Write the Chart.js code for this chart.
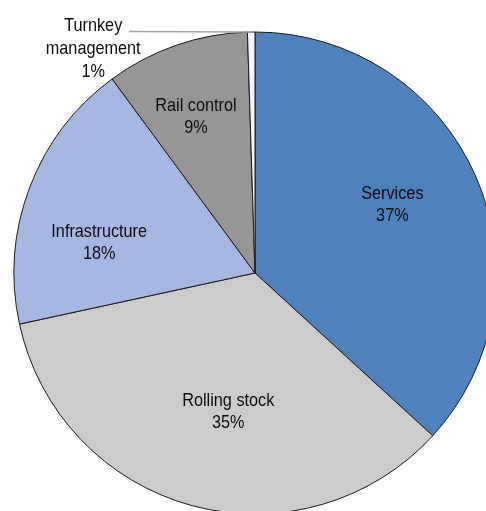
<!DOCTYPE html>
<html>
<head>
<meta charset="utf-8">
<script src="https://cdn.jsdelivr.net/npm/chart.js@4.4.1/dist/chart.umd.min.js"></script>
<style>
    html, body { margin: 0; padding: 0; background: #fff; overflow: hidden; }
    #wrap { position: absolute; left: 0; top: 0; width: 510px; height: 546px; }
</style>
</head>
<body>
<div id="wrap"><canvas id="pieChart"></canvas></div>
<script>
// segment shares, clockwise from 12 o'clock
const categories = ['Services', 'Rolling stock', 'Infrastructure', 'Rail control', 'Turnkey management'];
const shares = [36.8, 34.8, 18.3, 9.6, 0.5];
const pctLabels = ['37%', '35%', '18%', '9%', '1%'];
const sliceColors = ['#4f81bd', '#cccccc', '#a6b8e2', '#969696', '#f2f5fb'];

// label placement: radius fraction and angle nudge (deg) per slice
const labelPlace = [
    { r: 0.64, a: -3.3 },
    { r: 0.58, a: -4.1 },
    { r: 0.66, a: -9.1 },
    { r: 0.70, a: -1.4 },
    { outside: true }
];

const FONT = '19px "Liberation Sans", Arial, sans-serif';
const SQUEEZE = 0.855;
const LINE_H = 22;

function drawText(ctx, text, x, y) {
    ctx.save();
    ctx.translate(x, y);
    ctx.scale(SQUEEZE, 1);
    ctx.fillText(text, 0, 0);
    ctx.restore();
}

const sliceLabels = {
    id: 'sliceLabels',
    afterDatasetsDraw(chart) {
        const ctx = chart.ctx;
        const arcs = chart.getDatasetMeta(0).data;
        ctx.save();
        ctx.font = FONT;
        ctx.fillStyle = '#0d0d0d';
        ctx.textAlign = 'center';
        ctx.textBaseline = 'alphabetic';

        arcs.forEach((arc, i) => {
            const p = arc.getProps(['x', 'y', 'startAngle', 'endAngle', 'outerRadius'], true);
            const pct = pctLabels[i];
            const place = labelPlace[i];
            const mid = (p.startAngle + p.endAngle) / 2;

            if (place.outside) {
                // leader line going left from the slice edge
                const ex = p.x + Math.cos(mid) * p.outerRadius;
                const ey = p.y + Math.sin(mid) * p.outerRadius;
                const sx = ex - 122;
                ctx.strokeStyle = '#a6a6a6';
                ctx.lineWidth = 1.5;
                ctx.beginPath();
                ctx.moveTo(sx, ey - 0.5);
                ctx.lineTo(ex, ey);
                ctx.stroke();
                const tx = sx - 36;
                const words = categories[i].split(' ');
                drawText(ctx, words[0], tx, ey - 1.5);
                drawText(ctx, words[1], tx, ey + 21.5);
                drawText(ctx, pct, tx, ey + 44.5);
                return;
            }

            const ang = mid + place.a * Math.PI / 180;
            const cx = p.x + Math.cos(ang) * p.outerRadius * place.r;
            const cy = p.y + Math.sin(ang) * p.outerRadius * place.r;
            drawText(ctx, categories[i], cx, cy - 4);
            drawText(ctx, pct, cx, cy - 4 + LINE_H);
        });
        ctx.restore();
    }
};

const ctx = document.getElementById('pieChart').getContext('2d');
window.pieChart = new Chart(ctx, {
    type: 'pie',
    data: {
        labels: categories,
        datasets: [{
            data: shares,
            backgroundColor: sliceColors,
            borderColor: '#1a1a1a',
            borderWidth: 1
        }]
    },
    options: {
        responsive: true,
        maintainAspectRatio: false,
        animation: false,
        layout: {
            padding: { left: 13.5, right: 13.5, top: 31.5, bottom: 31.5 }
        },
        plugins: {
            legend: { display: false },
            tooltip: { enabled: false }
        }
    },
    plugins: [sliceLabels]
});
</script>
</body>
</html>
